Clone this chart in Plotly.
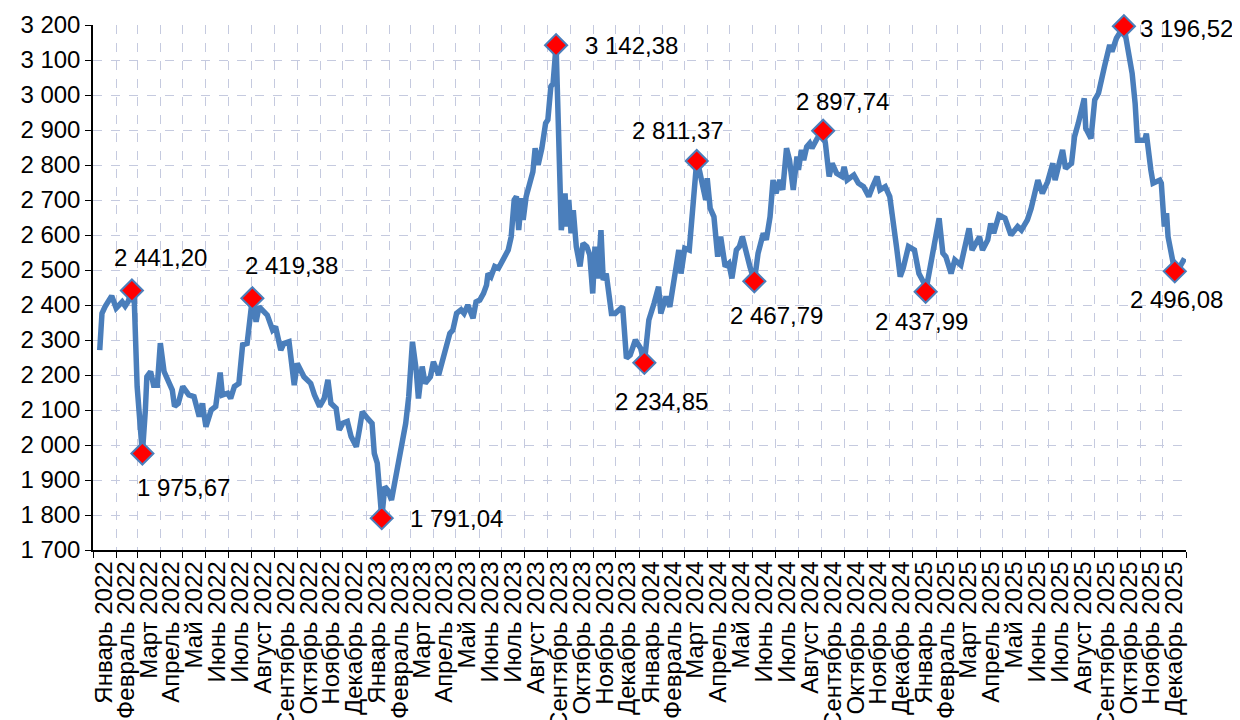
import pandas as pd
import plotly.graph_objects as go

# ── Data ──────────────────────────────────────────────────────────
DATES = [
    "2022-01-10", "2022-01-13", "2022-01-17", "2022-01-26", "2022-02-01", "2022-02-09",
    "2022-02-13", "2022-02-17", "2022-02-22", "2022-02-25", "2022-03-01", "2022-03-08",
    "2022-03-12", "2022-03-14", "2022-03-19", "2022-03-23", "2022-03-28", "2022-04-01",
    "2022-04-06", "2022-04-12", "2022-04-17", "2022-04-20", "2022-04-25", "2022-05-01",
    "2022-05-09", "2022-05-16", "2022-05-23", "2022-05-27", "2022-06-01", "2022-06-08",
    "2022-06-14", "2022-06-20", "2022-06-23", "2022-06-30", "2022-07-04", "2022-07-09",
    "2022-07-15", "2022-07-20", "2022-07-26", "2022-08-02", "2022-08-07", "2022-08-11",
    "2022-08-16", "2022-08-22", "2022-08-29", "2022-09-02", "2022-09-09", "2022-09-13",
    "2022-09-20", "2022-09-27", "2022-10-01", "2022-10-10", "2022-10-19", "2022-10-24",
    "2022-10-31", "2022-11-06", "2022-11-11", "2022-11-15", "2022-11-22", "2022-11-26",
    "2022-12-01", "2022-12-07", "2022-12-12", "2022-12-19", "2022-12-23", "2022-12-27",
    "2023-01-03", "2023-01-09", "2023-01-12", "2023-01-16", "2023-01-19", "2023-01-22",
    "2023-01-26", "2023-01-30", "2023-02-04", "2023-02-08", "2023-02-13", "2023-02-19",
    "2023-02-23", "2023-02-27", "2023-03-04", "2023-03-09", "2023-03-12", "2023-03-17",
    "2023-03-21", "2023-03-28", "2023-04-01", "2023-04-08", "2023-04-14", "2023-04-18",
    "2023-04-23", "2023-04-27", "2023-05-02", "2023-05-08", "2023-05-12", "2023-05-17",
    "2023-05-24", "2023-05-28", "2023-06-02", "2023-06-07", "2023-06-11", "2023-06-13",
    "2023-06-17", "2023-06-22", "2023-06-27", "2023-07-03", "2023-07-10", "2023-07-14",
    "2023-07-18", "2023-07-21", "2023-07-24", "2023-07-28", "2023-07-30", "2023-08-03",
    "2023-08-08", "2023-08-12", "2023-08-15", "2023-08-19", "2023-08-24", "2023-08-29",
    "2023-09-01", "2023-09-05", "2023-09-08", "2023-09-12", "2023-09-19", "2023-09-24",
    "2023-09-26", "2023-09-29", "2023-10-02", "2023-10-05", "2023-10-09", "2023-10-14",
    "2023-10-18", "2023-10-23", "2023-10-27", "2023-10-31", "2023-11-03", "2023-11-07",
    "2023-11-11", "2023-11-14", "2023-11-18", "2023-11-25", "2023-11-30", "2023-12-10",
    "2023-12-15", "2023-12-20", "2023-12-27", "2024-01-03", "2024-01-08", "2024-01-14",
    "2024-01-21", "2024-01-27", "2024-01-30", "2024-02-06", "2024-02-11", "2024-02-18",
    "2024-02-23", "2024-02-26", "2024-03-02", "2024-03-08", "2024-03-13", "2024-03-18",
    "2024-03-22", "2024-03-30", "2024-04-01", "2024-04-05", "2024-04-10", "2024-04-15",
    "2024-04-19", "2024-04-25", "2024-04-30", "2024-05-04", "2024-05-10", "2024-05-14",
    "2024-05-18", "2024-05-23", "2024-05-28", "2024-06-03", "2024-06-08", "2024-06-15",
    "2024-06-19", "2024-06-24", "2024-06-28", "2024-07-02", "2024-07-07", "2024-07-11",
    "2024-07-16", "2024-07-20", "2024-07-25", "2024-07-30", "2024-08-01", "2024-08-05",
    "2024-08-08", "2024-08-12", "2024-08-16", "2024-08-19", "2024-08-26", "2024-09-03",
    "2024-09-06", "2024-09-11", "2024-09-15", "2024-09-21", "2024-09-28", "2024-10-01",
    "2024-10-05", "2024-10-14", "2024-10-20", "2024-10-27", "2024-11-03", "2024-11-08",
    "2024-11-14", "2024-11-18", "2024-11-25", "2024-12-01", "2024-12-06", "2024-12-10",
    "2024-12-15", "2024-12-19", "2024-12-26", "2025-01-03", "2025-01-09", "2025-01-16",
    "2025-01-18", "2025-01-25", "2025-01-29", "2025-02-05", "2025-02-10", "2025-02-14",
    "2025-02-21", "2025-02-26", "2025-03-06", "2025-03-11", "2025-03-17", "2025-03-21",
    "2025-03-31", "2025-04-04", "2025-04-11", "2025-04-15", "2025-04-19", "2025-04-26",
    "2025-05-04", "2025-05-12", "2025-05-21", "2025-05-26", "2025-06-03", "2025-06-08",
    "2025-06-13", "2025-06-17", "2025-06-23", "2025-06-30", "2025-07-07", "2025-07-10",
    "2025-07-20", "2025-07-24", "2025-08-01", "2025-08-05", "2025-08-10", "2025-08-18",
    "2025-08-20", "2025-08-27", "2025-09-01", "2025-09-06", "2025-09-14", "2025-09-21",
    "2025-09-24", "2025-09-30", "2025-10-10", "2025-10-17", "2025-10-21", "2025-10-25",
    "2025-10-28", "2025-11-07", "2025-11-09", "2025-11-15", "2025-11-18", "2025-11-27",
    "2025-11-29", "2025-12-03", "2025-12-06", "2025-12-08", "2025-12-17", "2025-12-24",
    "2025-12-30",
]
VALUES = [
    2271, 2376, 2395, 2426, 2391, 2409,
    2397, 2410, 2441.20, 2424, 2167, 1975.67,
    2100, 2195, 2210, 2171, 2171, 2291,
    2210, 2176, 2157, 2110, 2119, 2167,
    2143, 2138, 2081, 2119, 2052, 2100,
    2110, 2207, 2143, 2148, 2133, 2167,
    2176, 2286, 2290, 2419.38, 2352, 2395,
    2386, 2371, 2329, 2338, 2271, 2290,
    2295, 2171, 2233, 2195, 2176, 2143,
    2110, 2133, 2186, 2119, 2105, 2043,
    2062, 2067, 2024, 1995, 2043, 2095,
    2076, 2062, 1976, 1948, 1871, 1791.04,
    1881, 1871, 1843, 1890, 1929, 2005,
    2062, 2138, 2295, 2214, 2133, 2224,
    2176, 2195, 2238, 2200, 2252, 2281,
    2319, 2328, 2376, 2386, 2376, 2400,
    2362, 2409, 2414, 2433, 2457, 2490,
    2481, 2510, 2505, 2529, 2557, 2595,
    2700, 2710, 2614, 2705, 2643, 2710,
    2757, 2781, 2848, 2800, 2848, 2919,
    2929, 3024, 3033, 3142.38, 2614, 2719,
    2624, 2700, 2605, 2671, 2567, 2510,
    2576, 2567, 2543, 2433, 2567, 2476,
    2614, 2471, 2490, 2376, 2376, 2395,
    2248, 2257, 2300, 2276, 2234.85, 2357,
    2405, 2452, 2376, 2424, 2395, 2490,
    2557, 2490, 2562, 2557, 2690, 2811.37,
    2781, 2700, 2762, 2676, 2652, 2538,
    2595, 2510, 2519, 2476, 2557, 2567,
    2595, 2548, 2510, 2467.79, 2548, 2605,
    2586, 2652, 2757, 2719, 2757, 2729,
    2848, 2814, 2729, 2824, 2786, 2843,
    2814, 2852, 2862, 2848, 2876, 2897.74,
    2862, 2767, 2805, 2776, 2767, 2795,
    2757, 2771, 2748, 2738, 2710, 2738,
    2767, 2729, 2738, 2710, 2614, 2567,
    2481, 2505, 2567, 2557, 2490, 2462,
    2437.99, 2519, 2586, 2648, 2548, 2538,
    2490, 2529, 2514, 2557, 2619, 2557,
    2595, 2557, 2586, 2633, 2605, 2657,
    2648, 2600, 2624, 2614, 2643, 2676,
    2729, 2757, 2719, 2752, 2805, 2757,
    2843, 2790, 2805, 2881, 2919, 2990,
    2905, 2876, 2986, 3005, 3081, 3143,
    3124, 3162, 3196.52, 3100, 3062, 2976,
    2871, 2871, 2890, 2786, 2748, 2757,
    2748, 2624, 2662, 2595, 2496.08, 2510,
    2533,
]

# local highs / lows that get a red marker and a label
EXT_DATES = [
    "2022-02-22", "2022-03-08", "2022-08-02", "2023-01-22", "2023-09-12", "2024-01-08",
    "2024-03-18", "2024-06-03", "2024-09-03", "2025-01-18", "2025-10-10", "2025-12-17",
]

MONTHS = ["Январь", "Февраль", "Март", "Апрель", "Май", "Июнь",
          "Июль", "Август", "Сентябрь", "Октябрь", "Ноябрь", "Декабрь"]
YEARS = [2022, 2023, 2024, 2025]

# ── Styling ───────────────────────────────────────────────────────
LINE_COLOR = "#4A7EBB"
GRID_COLOR = "#C5CADF"
FAMILY = "Liberation Sans, Arial, sans-serif"
FONT = dict(family=FAMILY, color="#000000", size=24)

# label offsets in px (xshift, yshift, xanchor) per extreme point
LABEL_POS = [
    (29, 33, "center"), (41, -34, "center"), (39, 33, "center"), (26, 0, "left"),
    (27, 0, "left"), (17, -39, "center"), (-19, 31, "center"), (22, -34, "center"),
    (19, 29, "center"), (-4, -30, "center"), (14, -2, "left"), (2, -28, "center"),
]


def fmt_ru(v):
    return f"{v:,.2f}".replace(",", " ").replace(".", ",")


month_starts = pd.date_range("2022-01-01", periods=len(YEARS) * 12 + 1, freq="MS")
mid_months = month_starts[:-1] + (month_starts[1:] - month_starts[:-1]) / 2
tick_text = [f"{MONTHS[i % 12]} {YEARS[i // 12]}" for i in range(len(YEARS) * 12)]

ext_values = [VALUES[DATES.index(d)] for d in EXT_DATES]

fig = go.Figure()

fig.add_trace(go.Scatter(
    x=DATES, y=VALUES, mode="lines",
    line=dict(color=LINE_COLOR, width=5.5),
    showlegend=False, hoverinfo="skip",
))

fig.add_trace(go.Scatter(
    x=EXT_DATES, y=ext_values, mode="markers",
    marker=dict(symbol="diamond", size=17, color="#FF0000",
                line=dict(color=LINE_COLOR, width=2)),
    cliponaxis=False, showlegend=False,
))

for d, v, (dx, dy, anchor) in zip(EXT_DATES, ext_values, LABEL_POS):
    fig.add_annotation(
        x=d, y=v, text=fmt_ru(v), showarrow=False,
        xshift=dx, yshift=dy, xanchor=anchor, yanchor="middle",
        font=FONT,
    )

# the page body adds an 8 px offset, so the figure is 8 px smaller each way
fig.update_layout(
    width=1232, height=712,
    plot_bgcolor="white", paper_bgcolor="white",
    font=FONT,
    separators=", ",
    margin=dict(l=85, r=54, t=17, b=170, autoexpand=False),
    xaxis=dict(
        type="date", automargin=False,
        range=[month_starts[0], month_starts[-1]],
        tickmode="array", tickvals=mid_months, ticktext=tick_text,
        tickangle=-90, ticks="", showgrid=False,
        tickfont=dict(family=FAMILY, size=24, color="#000000"),
        showline=True, linecolor="#000000", linewidth=1.5,
        minor=dict(tickmode="array", tickvals=month_starts,
                   ticks="outside", ticklen=6, tickcolor="#000000",
                   showgrid=True, gridcolor=GRID_COLOR, gridwidth=1, griddash="dash"),
        zeroline=False,
    ),
    yaxis=dict(
        automargin=False,
        range=[1700, 3200], dtick=100, tick0=1700,
        tickformat=",d",
        tickfont=dict(family=FAMILY, size=24, color="#000000"),
        ticks="outside", ticklen=6, tickcolor="#000000",
        showgrid=True, gridcolor=GRID_COLOR, gridwidth=1, griddash="dash",
        showline=True, linecolor="#000000", linewidth=1.5,
        zeroline=False,
    ),
)

fig.write_html("out.html")
